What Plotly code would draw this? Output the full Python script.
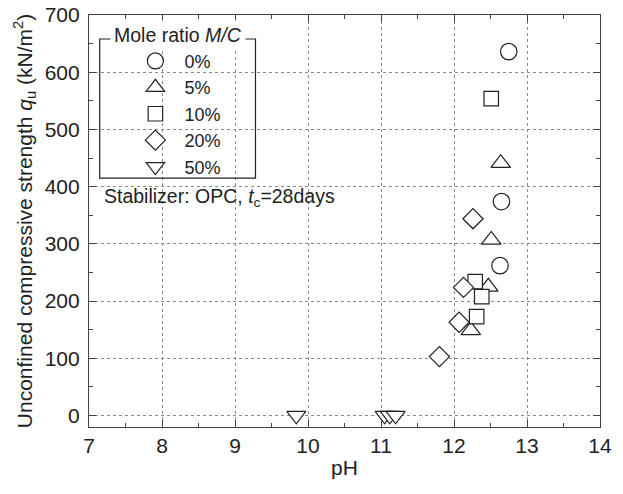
import plotly.graph_objects as go

# Data
ph_0 = [12.75, 12.65, 12.63]
qu_0 = [636, 374, 262]
ph_5 = [12.64, 12.51, 12.47, 12.23]
qu_5 = [441, 307, 225, 149]
ph_10 = [12.51, 12.29, 12.38, 12.31]
qu_10 = [554, 234, 208, 173]
ph_20 = [12.26, 12.13, 12.07, 11.80]
qu_20 = [344, 224, 163, 103]
ph_50 = [9.84, 11.05, 11.12, 11.20]
qu_50 = [0, 0, 0, 0]

series_names = ["0%", "5%", "10%", "20%", "50%"]
symbols = ["circle", "triangle-up", "square", "diamond", "triangle-down"]
sizes = [16.5, 17, 14.5, 15.5, 16.5]

xs = [ph_0, ph_5, ph_10, ph_20, ph_50]
ys = [qu_0, qu_5, qu_10, qu_20, qu_50]

FONT = "Liberation Sans, Arial, sans-serif"
INK = "#222222"

fig = go.Figure()
for name, sym, sz, x, y in zip(series_names, symbols, sizes, xs, ys):
    fig.add_trace(go.Scatter(
        x=x, y=y, mode="markers", name=name,
        marker=dict(symbol=sym, size=sz, color="white",
                    line=dict(color=INK, width=1.2)),
    ))

axis_common = dict(
    showline=True, linecolor="#444444", linewidth=1.2, mirror="ticks",
    ticks="inside", ticklen=7, tickwidth=1.2, tickcolor="#444444",
    showgrid=True, gridcolor="#8a8a8a", griddash="dot", gridwidth=1,
    zeroline=False, automargin=False,
    tickfont=dict(family=FONT, size=21, color=INK),
)

fig.update_xaxes(
    range=[7, 14], dtick=1, tick0=7,
    minor=dict(dtick=0.5, ticks="inside", ticklen=4, tickcolor="#444444", showgrid=False),
    title=dict(text="pH", font=dict(family=FONT, size=21, color=INK), standoff=4),
    **axis_common,
)
fig.update_yaxes(
    range=[-20, 700], dtick=100, tick0=0,
    minor=dict(dtick=50, ticks="inside", ticklen=4, tickcolor="#444444", showgrid=False),
    title=dict(text="Unconfined compressive strength <i>q</i><sub>u</sub> (kN/m<sup>2</sup>)",
               font=dict(family=FONT, size=21, color=INK), standoff=6),
    ticklabelstandoff=4,
    **axis_common,
)

fig.add_shape(type="rect", xref="paper", yref="paper",
              x0=0.021, x1=0.3258, y0=0.604, y1=0.9417,
              line=dict(color=INK, width=1.2), fillcolor="rgba(0,0,0,0)")
fig.add_annotation(xref="paper", yref="paper", x=0.174, y=0.9514,
                   text="Mole ratio <i>M/C</i>", showarrow=False,
                   xanchor="center", yanchor="middle",
                   font=dict(family=FONT, size=19.5, color=INK),
                   bgcolor="white", borderpad=3)
fig.add_annotation(xref="paper", yref="paper", x=0.025, y=0.558,
                   text="Stabilizer: OPC, <i>t</i><sub>c</sub>=28days", showarrow=False,
                   xanchor="left", yanchor="middle",
                   font=dict(family=FONT, size=19.5, color=INK))

fig.update_layout(
    width=623, height=494,
    margin=dict(l=89, r=23, t=15, b=67),
    paper_bgcolor="white", plot_bgcolor="white",
    font=dict(family=FONT, color=INK),
    showlegend=True,
    legend=dict(x=0.0732, y=0.9327, xanchor="left", yanchor="top",
                bgcolor="rgba(0,0,0,0)", borderwidth=0,
                itemwidth=48, font=dict(family=FONT, size=18, color=INK)),
)

fig.write_html("out.html")
